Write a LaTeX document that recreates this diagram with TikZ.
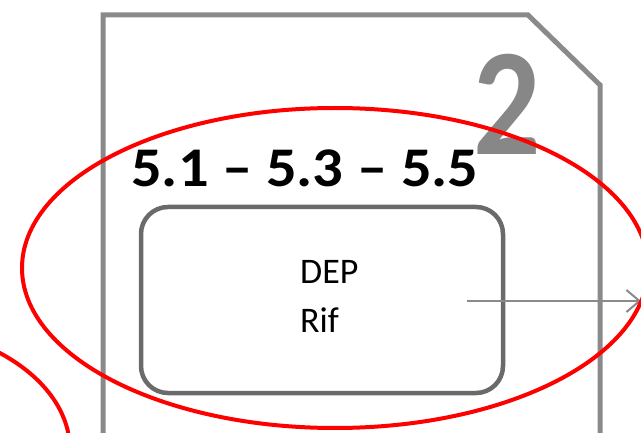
\documentclass[tikz,border=0pt]{standalone}
\usepackage{fontspec}
\setmainfont{Carlito}
\usetikzlibrary{arrows.meta}
\definecolor{outergray}{HTML}{8A8A8A}
\definecolor{boxgray}{HTML}{6A6A6A}
\definecolor{numgray}{HTML}{878787}
\tikzset{
  outershape/.style={draw=outergray, line width=5pt, line join=miter},
  depbox/.style={draw=boxgray, line width=4.5pt, rounded corners=27pt},
  redring/.style={draw=red, line width=4pt},
  flow/.style={draw=outergray, line width=2pt, -{Straight Barb[length=13pt,width=22pt,line width=2pt]}},
  boxtext/.style={font=\fontsize{36}{42}\selectfont, anchor=base west, inner sep=0pt},
}
\begin{document}
\begin{tikzpicture}[x=1pt,y=-1pt]
\useasboundingbox (0,0) rectangle (641,433);
% outer card shape
\draw[outershape] (103,436) -- (103,15) -- (528,15) -- (600,85) -- (600,436);
% big number
\node[font=\fontsize{153}{160}\selectfont\bfseries, text=numgray, anchor=base west, inner sep=0pt, xscale=0.87] (num) at (473,155) {2};
% heading
\node[font=\fontsize{56}{60}\selectfont\bfseries, anchor=base west, inner sep=0pt, xscale=1.08] (head) at (131,187) {5.1 – 5.3 – 5.5};
% rounded box
\draw[depbox] (141,207) rectangle (503,393);
\node[inner sep=0pt, minimum width=362pt, minimum height=186pt] (box) at (322,300) {};
\node[boxtext] (dep) at (300,284) {DEP};
\node[boxtext] (rif) at (300,333) {Rif};
% arrow
\coordinate (astart) at (467,301);
\coordinate (aend) at (641,301);
\draw[flow] (astart) -- (aend);
% red ellipses
\draw[redring] (335,268) ellipse [x radius=313, y radius=160];
\draw[redring] (-120,450) ellipse [x radius=190, y radius=125];
\end{tikzpicture}
\end{document}
